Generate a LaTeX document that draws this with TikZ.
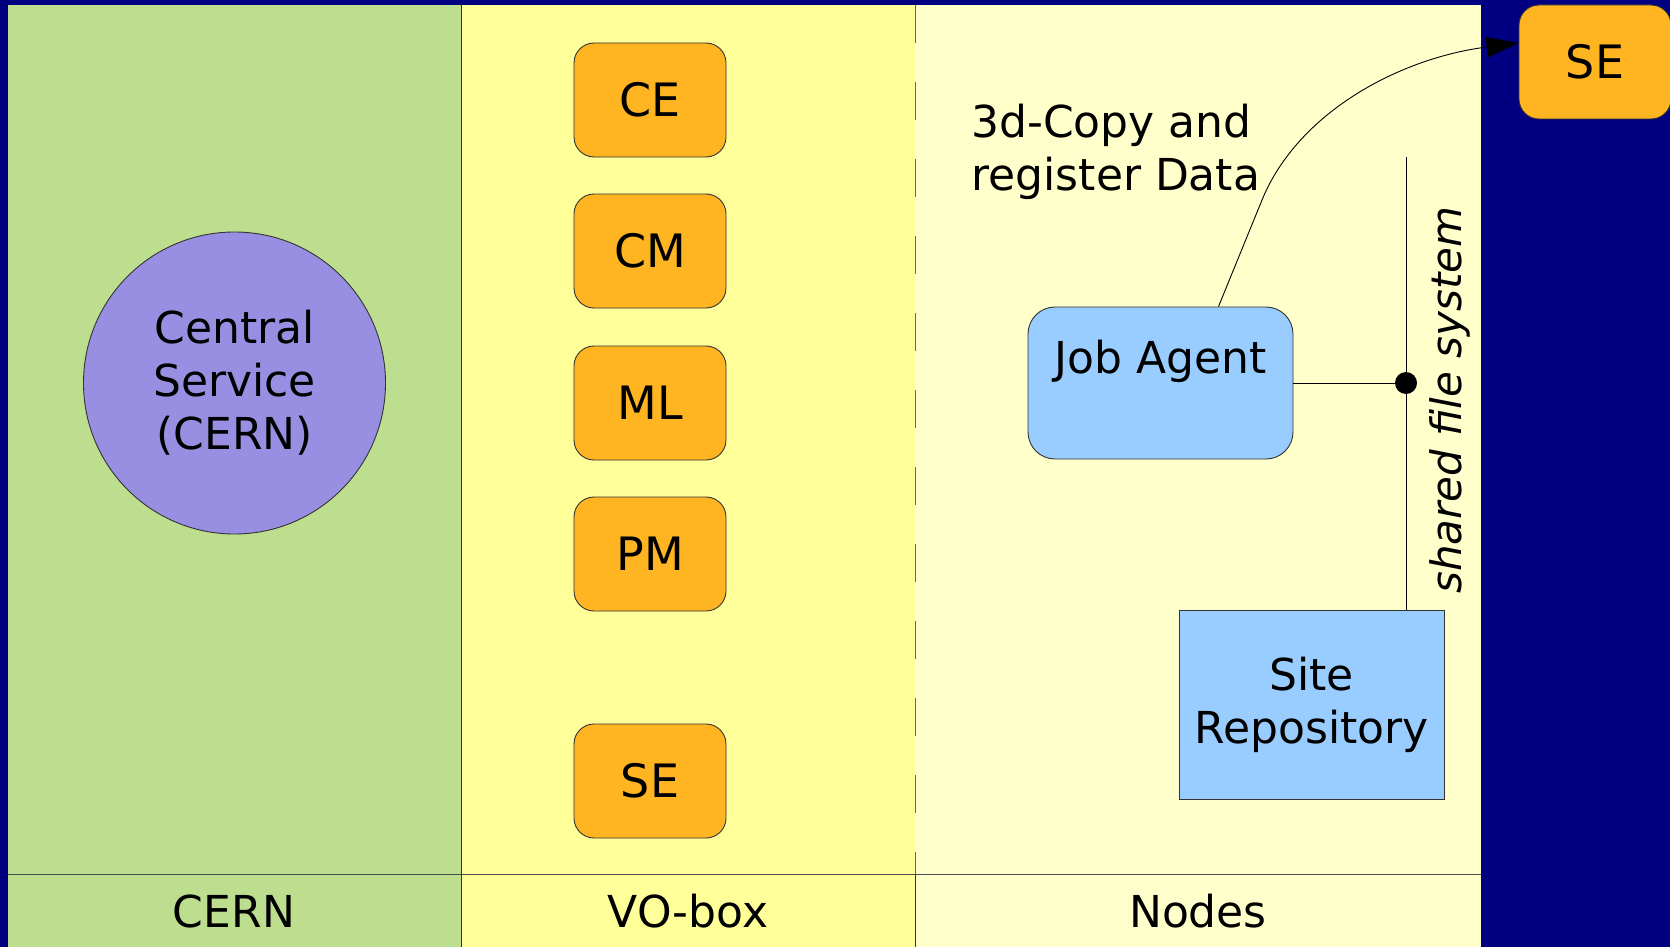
\documentclass[tikz,border=0pt]{standalone}
\usepackage{fontspec}
\setmainfont{DejaVu Sans}
\usetikzlibrary{arrows.meta}
\definecolor{navy}{HTML}{000080}
\definecolor{cerngreen}{HTML}{BDDD8F}
\definecolor{voyellow}{HTML}{FFFF99}
\definecolor{nodecream}{HTML}{FFFFCC}
\definecolor{svcorange}{HTML}{FFB522}
\definecolor{centralpurple}{HTML}{998FE2}
\definecolor{agentblue}{HTML}{99CCFF}
\tikzset{>={Triangle[length=32pt, width=20pt]}}
\tikzset{
  svc/.style={draw=black!80, fill=svcorange, rounded corners=20pt, minimum width=152pt, minimum height=114pt, inner sep=0pt, font=\fontsize{46}{53}\selectfont},
  bluebox/.style={draw=black!80, fill=agentblue, inner sep=0pt},
}

\begin{document}
\begin{tikzpicture}[x=1pt, y=-1pt, line width=0.9pt, every node/.style={font=\fontsize{44}{53}\selectfont}]
      \useasboundingbox (0,0) rectangle (1670,947);
      \fill[navy] (0,0) rectangle (1670,947);
      \fill[cerngreen] (8,5) rectangle (461,947);
      \fill[voyellow] (461,5) rectangle (915,947);
      \fill[nodecream] (915,5) rectangle (1481,947);
      \draw[black!70] (8,874) -- (1481,874);
      \draw[black!80] (461,5) -- (461,947);
      \draw[black!60, dash pattern=on 38pt off 39pt] (915,5) -- (915,874);
      \draw[black!80] (915,874) -- (915,947);
      \node (cern) at (234,911) {CERN};
      \node (vobox) at (688,911) {VO-box};
      \node (nodes) at (1198,911) {Nodes};
      \node[draw=black!80, circle, fill=centralpurple, minimum size=302pt, inner sep=0pt, align=center] (central) at (234.5,383) {Central\\Service\\(CERN)};
      \node[svc] (ce) at (650,100) {CE};
      \node[svc] (cm) at (650,251) {CM};
      \node[svc] (ml) at (650,403) {ML};
      \node[svc] (pm) at (650,554) {PM};
      \node[svc] (se) at (650,781) {SE};
      \node[svc] (sefar) at (1595,62) {SE};
      \node[bluebox, rounded corners=27pt, minimum width=265pt, minimum height=152pt, text height=33pt, text depth=53pt] (agent) at (1160.5,383) {Job Agent};
      \node[bluebox, minimum width=265pt, minimum height=189pt, align=center] (repo) at (1311.5,704.5) {Site\\Repository};
      \coordinate (fstop) at (1406,157);
      \node[circle, fill=black, minimum size=22pt, inner sep=0pt] (junction) at (1406,383) {};
      \draw (fstop) -- (junction) -- (repo.north -| junction);
      \draw (agent.east) -- (junction);
      \node[rotate=90, font=\fontsize{42}{50}\selectfont\itshape] (sharedfs) at (1450,400) {shared file system};
      \node[anchor=north west, align=left, inner sep=0pt] (copytext) at (971,104) {3d-Copy and\\register Data};
      \draw[->] ([xshift=58pt]agent.north) -- (1262,200) .. controls (1298,112) and (1400,58) .. ([yshift=19pt]sefar.west);
    \end{tikzpicture}
\end{document}
